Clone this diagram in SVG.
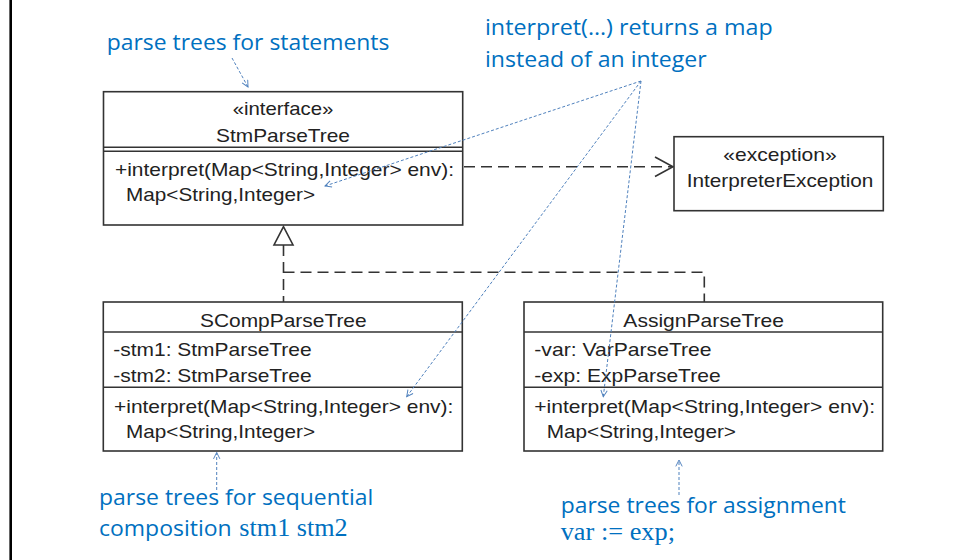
<svg xmlns="http://www.w3.org/2000/svg" width="955" height="560" viewBox="0 0 955 560">
  <style>
    .box { fill: #ffffff; stroke: #333333; stroke-width: 1.6; }
    .sep { stroke: #333333; stroke-width: 1.6; fill: none; }
    .uml { font-family: "Liberation Sans", Arial, sans-serif; font-size: 18.5px; fill: #222222; }
    .mid { text-anchor: middle; }
    .dash { stroke: #333333; stroke-width: 1.6; fill: none; stroke-dasharray: 11 6; }
    .note { font-family: "Open Sans", "Noto Sans", sans-serif; font-size: 21px; fill: #0070C0; }
    .serif { font-family: "Liberation Serif", "Times New Roman", serif; font-size: 25px; }
    .pointer { stroke: #4F81BD; stroke-width: 1; fill: none; stroke-dasharray: 3 2; }
  </style>
  <defs>
    <marker id="tip" viewBox="0 0 10 10" refX="9" refY="5" markerWidth="8" markerHeight="8" markerUnits="userSpaceOnUse" orient="auto">
      <path d="M1,1 L9,5 L1,9" fill="none" stroke="#4F81BD" stroke-width="1.2"/>
    </marker>
  </defs>

  <rect width="955" height="560" fill="#ffffff"/>
  <!-- slide edge -->
  <line x1="10.7" y1="0" x2="10.7" y2="560" stroke="#000000" stroke-width="2.6"/>

  <!-- connectors -->
  <g id="connectors">
    <!-- dependency: StmParseTree -> InterpreterException -->
    <line class="dash" x1="464" y1="166.7" x2="672" y2="166.7"/>
    <path class="sep" d="M655,157 L673,166.7 L655,176.5"/>
    <!-- realization: implementations -> StmParseTree -->
    <path d="M283.5,226.7 L274,245 L293,245 Z" fill="#ffffff" stroke="#333333" stroke-width="1.6"/>
    <line class="dash" x1="283.5" y1="245" x2="283.5" y2="302" stroke-dasharray="13 7"/>
    <path class="dash" d="M283.5,272.3 L704.3,272.3 L704.3,302"/>
  </g>

  <!-- interface StmParseTree -->
  <g id="stm-parse-tree">
    <rect class="box" x="103.5" y="91.7" width="359.2" height="133.3"/>
    <line class="sep" x1="103.5" y1="147.3" x2="462.7" y2="147.3"/>
    <line class="sep" x1="103.5" y1="151.3" x2="462.7" y2="151.3"/>
    <text class="uml mid" x="283" y="115" textLength="100.7" lengthAdjust="spacingAndGlyphs">«interface»</text>
    <text class="uml mid" x="283" y="141.5" textLength="134" lengthAdjust="spacingAndGlyphs">StmParseTree</text>
    <text class="uml" x="115" y="175.5" textLength="339" lengthAdjust="spacingAndGlyphs">+interpret(Map&lt;String,Integer&gt; env):</text>
    <text class="uml" x="126" y="201" textLength="189" lengthAdjust="spacingAndGlyphs">Map&lt;String,Integer&gt;</text>
  </g>

  <!-- exception InterpreterException -->
  <g id="interpreter-exception">
    <rect class="box" x="674" y="136.7" width="209.3" height="74"/>
    <text class="uml mid" x="780" y="160.5" textLength="113.3" lengthAdjust="spacingAndGlyphs">«exception»</text>
    <text class="uml mid" x="780" y="186.5" textLength="186.7" lengthAdjust="spacingAndGlyphs">InterpreterException</text>
  </g>

  <!-- class SCompParseTree -->
  <g id="scomp-parse-tree">
    <rect class="box" x="103.3" y="302" width="359" height="149"/>
    <line class="sep" x1="103.3" y1="332" x2="462.3" y2="332"/>
    <line class="sep" x1="103.3" y1="387.3" x2="462.3" y2="387.3"/>
    <text class="uml mid" x="283.3" y="326.5" textLength="166.7" lengthAdjust="spacingAndGlyphs">SCompParseTree</text>
    <text class="uml" x="113.3" y="356" textLength="198.3" lengthAdjust="spacingAndGlyphs">-stm1: StmParseTree</text>
    <text class="uml" x="113.3" y="382" textLength="198.3" lengthAdjust="spacingAndGlyphs">-stm2: StmParseTree</text>
    <text class="uml" x="114" y="412.5" textLength="339.3" lengthAdjust="spacingAndGlyphs">+interpret(Map&lt;String,Integer&gt; env):</text>
    <text class="uml" x="126" y="438" textLength="189" lengthAdjust="spacingAndGlyphs">Map&lt;String,Integer&gt;</text>
  </g>

  <!-- class AssignParseTree -->
  <g id="assign-parse-tree">
    <rect class="box" x="524" y="302" width="358.7" height="149"/>
    <line class="sep" x1="524" y1="332" x2="882.7" y2="332"/>
    <line class="sep" x1="524" y1="387.3" x2="882.7" y2="387.3"/>
    <text class="uml mid" x="703.7" y="326.5" textLength="160.7" lengthAdjust="spacingAndGlyphs">AssignParseTree</text>
    <text class="uml" x="534.3" y="356" textLength="177.3" lengthAdjust="spacingAndGlyphs">-var: VarParseTree</text>
    <text class="uml" x="534.3" y="382" textLength="186.3" lengthAdjust="spacingAndGlyphs">-exp: ExpParseTree</text>
    <text class="uml" x="534.3" y="412.5" textLength="340.7" lengthAdjust="spacingAndGlyphs">+interpret(Map&lt;String,Integer&gt; env):</text>
    <text class="uml" x="546.7" y="438" textLength="189.3" lengthAdjust="spacingAndGlyphs">Map&lt;String,Integer&gt;</text>
  </g>

  <!-- annotations -->
  <g id="note-statements">
    <text class="note" x="106.7" y="50" textLength="282.7" lengthAdjust="spacingAndGlyphs">parse trees for statements</text>
    <line class="pointer" x1="232" y1="58" x2="248" y2="87" marker-end="url(#tip)"/>
  </g>

  <g id="note-interpret">
    <text class="note" x="485" y="35" textLength="287.7" lengthAdjust="spacingAndGlyphs">interpret(…) returns a map</text>
    <text class="note" x="485" y="66.7" textLength="221.7" lengthAdjust="spacingAndGlyphs">instead of an integer</text>
    <line class="pointer" x1="641" y1="81" x2="325" y2="186" marker-end="url(#tip)"/>
    <line class="pointer" x1="641" y1="81" x2="406.7" y2="396.7" marker-end="url(#tip)"/>
    <line class="pointer" x1="641" y1="81" x2="603.3" y2="396.7" marker-end="url(#tip)"/>
  </g>

  <g id="note-sequential">
    <line class="pointer" x1="216.7" y1="490" x2="216.7" y2="452.5" marker-end="url(#tip)"/>
    <text class="note" x="99" y="505" textLength="274.3" lengthAdjust="spacingAndGlyphs">parse trees for sequential</text>
    <text class="note" x="99" y="536" textLength="132.7" lengthAdjust="spacingAndGlyphs">composition</text>
    <text class="note serif" x="239.3" y="536" textLength="108.4" lengthAdjust="spacingAndGlyphs">stm1 stm2</text>
  </g>

  <g id="note-assignment">
    <line class="pointer" x1="679" y1="495" x2="679" y2="460" marker-end="url(#tip)"/>
    <text class="note" x="560.7" y="512.7" textLength="285.3" lengthAdjust="spacingAndGlyphs">parse trees for assignment</text>
    <text class="note serif" x="560.7" y="540" textLength="114.3" lengthAdjust="spacingAndGlyphs">var := exp;</text>
  </g>
</svg>
